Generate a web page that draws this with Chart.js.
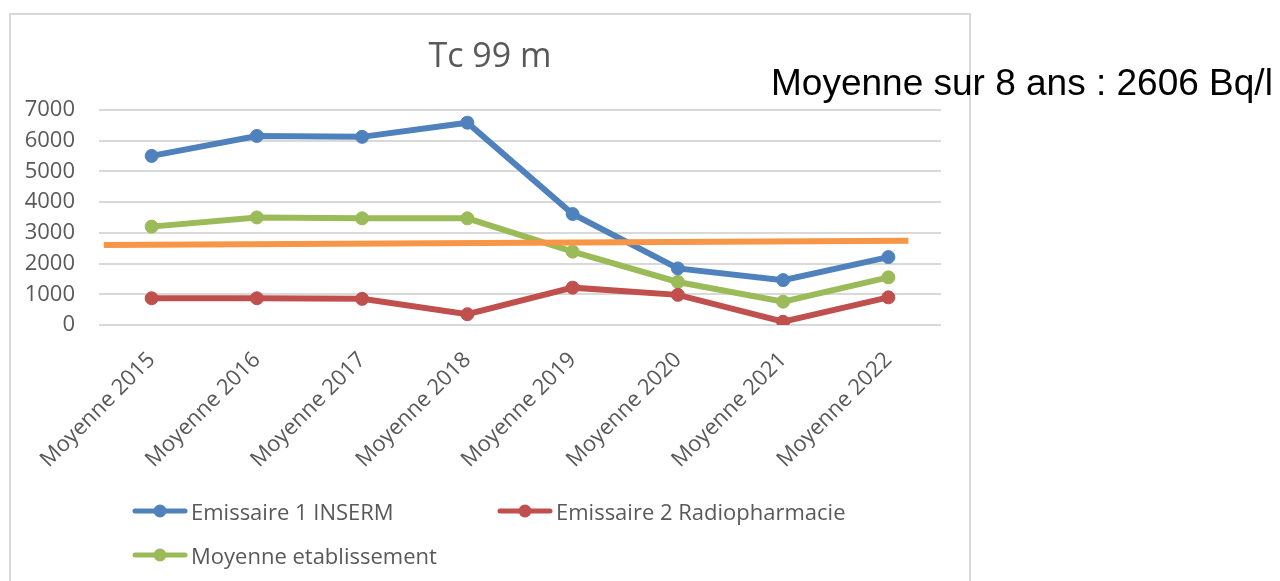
<!DOCTYPE html>
<html>
<head>
<meta charset="utf-8">
<script src="https://cdn.jsdelivr.net/npm/chart.js@4/dist/chart.umd.min.js"></script>
<style>
  body { margin: 0; width: 1280px; height: 581px; overflow: hidden; background: #fff; position: relative; }
  #frame { position: absolute; left: 9px; top: 13px; width: 962px; height: 580px; box-sizing: border-box; border: 2px solid #d9d9d9; }
  #myChart { position: absolute; left: 0; top: 0; }
  #legend { position: absolute; left: 0; top: 0; font-family: "Open Sans", sans-serif; font-size: 22px; color: #595959; }
  .item { position: absolute; display: flex; align-items: center; white-space: nowrap; }
  .item canvas { margin-right: 3px; }
  #note { position: absolute; left: 771px; top: 64px; font-family: "Liberation Sans", Arial, sans-serif; font-size: 37px; line-height: 1; color: #000; white-space: nowrap; }
</style>
</head>
<body>
<div id="frame">
  <canvas id="myChart" width="958" height="576"></canvas>
  <div id="legend"></div>
</div>
<div id="note">Moyenne sur 8 ans : 2606 Bq/l</div>
<script>
// data
var labels = ['Moyenne 2015', 'Moyenne 2016', 'Moyenne 2017', 'Moyenne 2018',
              'Moyenne 2019', 'Moyenne 2020', 'Moyenne 2021', 'Moyenne 2022'];
var inserm = [5500, 6150, 6120, 6580, 3610, 1840, 1460, 2210];
var radiopharmacie = [870, 870, 850, 350, 1215, 980, 105, 900];
var etablissement = [3200, 3500, 3470, 3470, 2385, 1400, 760, 1550];
// hand drawn average line (x in category index units)
var trendX = [-0.455, 7.19];
var trendY = [2600, 2740];
var yTicks = [0, 1000, 2000, 3000, 4000, 5000, 6000, 7000];

var grey = '#595959';
var tickFont = { family: 'Open Sans', size: 22 };

function serie(label, data, color) {
    return {
        label: label,
        data: data,
        borderColor: color,
        backgroundColor: color,
        borderWidth: 6,
        pointRadius: 6.5,
        pointBorderWidth: 1,
        pointBorderColor: color,
        pointBackgroundColor: color,
        tension: 0
    };
}

var ctx = document.getElementById('myChart').getContext('2d');
var chart = new Chart(ctx, {
    type: 'line',
    data: {
        labels: labels,
        datasets: [
            {
                label: 'trend',
                data: trendX.map(function (x, i) { return { x: x, y: trendY[i] }; }),
                xAxisID: 'x2',
                borderColor: '#f79646',
                borderWidth: 6,
                pointRadius: 0,
                borderCapStyle: 'butt'
            },
            serie('Emissaire 1 INSERM', inserm, '#4f81bd'),
            serie('Emissaire 2 Radiopharmacie', radiopharmacie, '#c0504d'),
            serie('Moyenne etablissement', etablissement, '#9bbb59')
        ]
    },
    options: {
        responsive: false,
        animation: false,
        layout: { padding: { left: 0, right: 0, top: 0, bottom: 106 } },
        plugins: {
            legend: { display: false },
            tooltip: { enabled: false },
            title: {
                display: true,
                text: 'Tc 99 m',
                color: grey,
                font: { family: 'Open Sans', size: 34, weight: 'normal', lineHeight: 1.2 },
                padding: { top: 22, bottom: 32 }
            }
        },
        scales: {
            x: {
                offset: true,
                grid: { display: false, drawTicks: false },
                border: { display: false },
                ticks: { color: grey, font: tickFont, minRotation: 45, maxRotation: 45, padding: 22, autoSkip: false },
                afterFit: function (scale) { scale.height = 160; }
            },
            x2: {
                type: 'linear',
                display: false,
                min: -0.5,
                max: labels.length - 0.5
            },
            y: {
                min: 0,
                max: 7000,
                grid: { color: '#d9d9d9', lineWidth: 2, drawTicks: false },
                border: { display: false },
                afterBuildTicks: function (scale) {
                    scale.ticks = yTicks.map(function (v) { return { value: v }; });
                },
                ticks: {
                    color: grey, font: tickFont, padding: 24,
                    callback: function (v) { return String(v); }
                },
                afterFit: function (scale) { scale.width = 88; }
            },
            // empty right axis, only keeps a margin on the right side
            yRight: {
                position: 'right',
                min: 0,
                max: 7000,
                grid: { display: false, drawTicks: false },
                border: { display: false },
                ticks: { display: false },
                afterFit: function (scale) { scale.width = 28; }
            }
        }
    }
});

// legend drawn as html, built from the chart's own datasets
var legendPos = [[121, 497], [486, 497], [121, 541]];
var legend = document.getElementById('legend');
chart.data.datasets.slice(1).forEach(function (ds, i) {
    var item = document.createElement('div');
    item.className = 'item';
    item.style.left = legendPos[i][0] + 'px';
    item.style.top = (legendPos[i][1] - 16) + 'px';
    var icon = document.createElement('canvas');
    icon.width = 56;
    icon.height = 16;
    var c = icon.getContext('2d');
    c.strokeStyle = ds.borderColor;
    c.lineWidth = 5;
    c.lineCap = 'round';
    c.beginPath();
    c.moveTo(3, 8);
    c.lineTo(53, 8);
    c.stroke();
    c.fillStyle = ds.borderColor;
    c.beginPath();
    c.arc(28, 8, 6.5, 0, Math.PI * 2);
    c.fill();
    item.appendChild(icon);
    var txt = document.createElement('span');
    txt.textContent = ds.label;
    item.appendChild(txt);
    legend.appendChild(item);
});
</script>
</body>
</html>
